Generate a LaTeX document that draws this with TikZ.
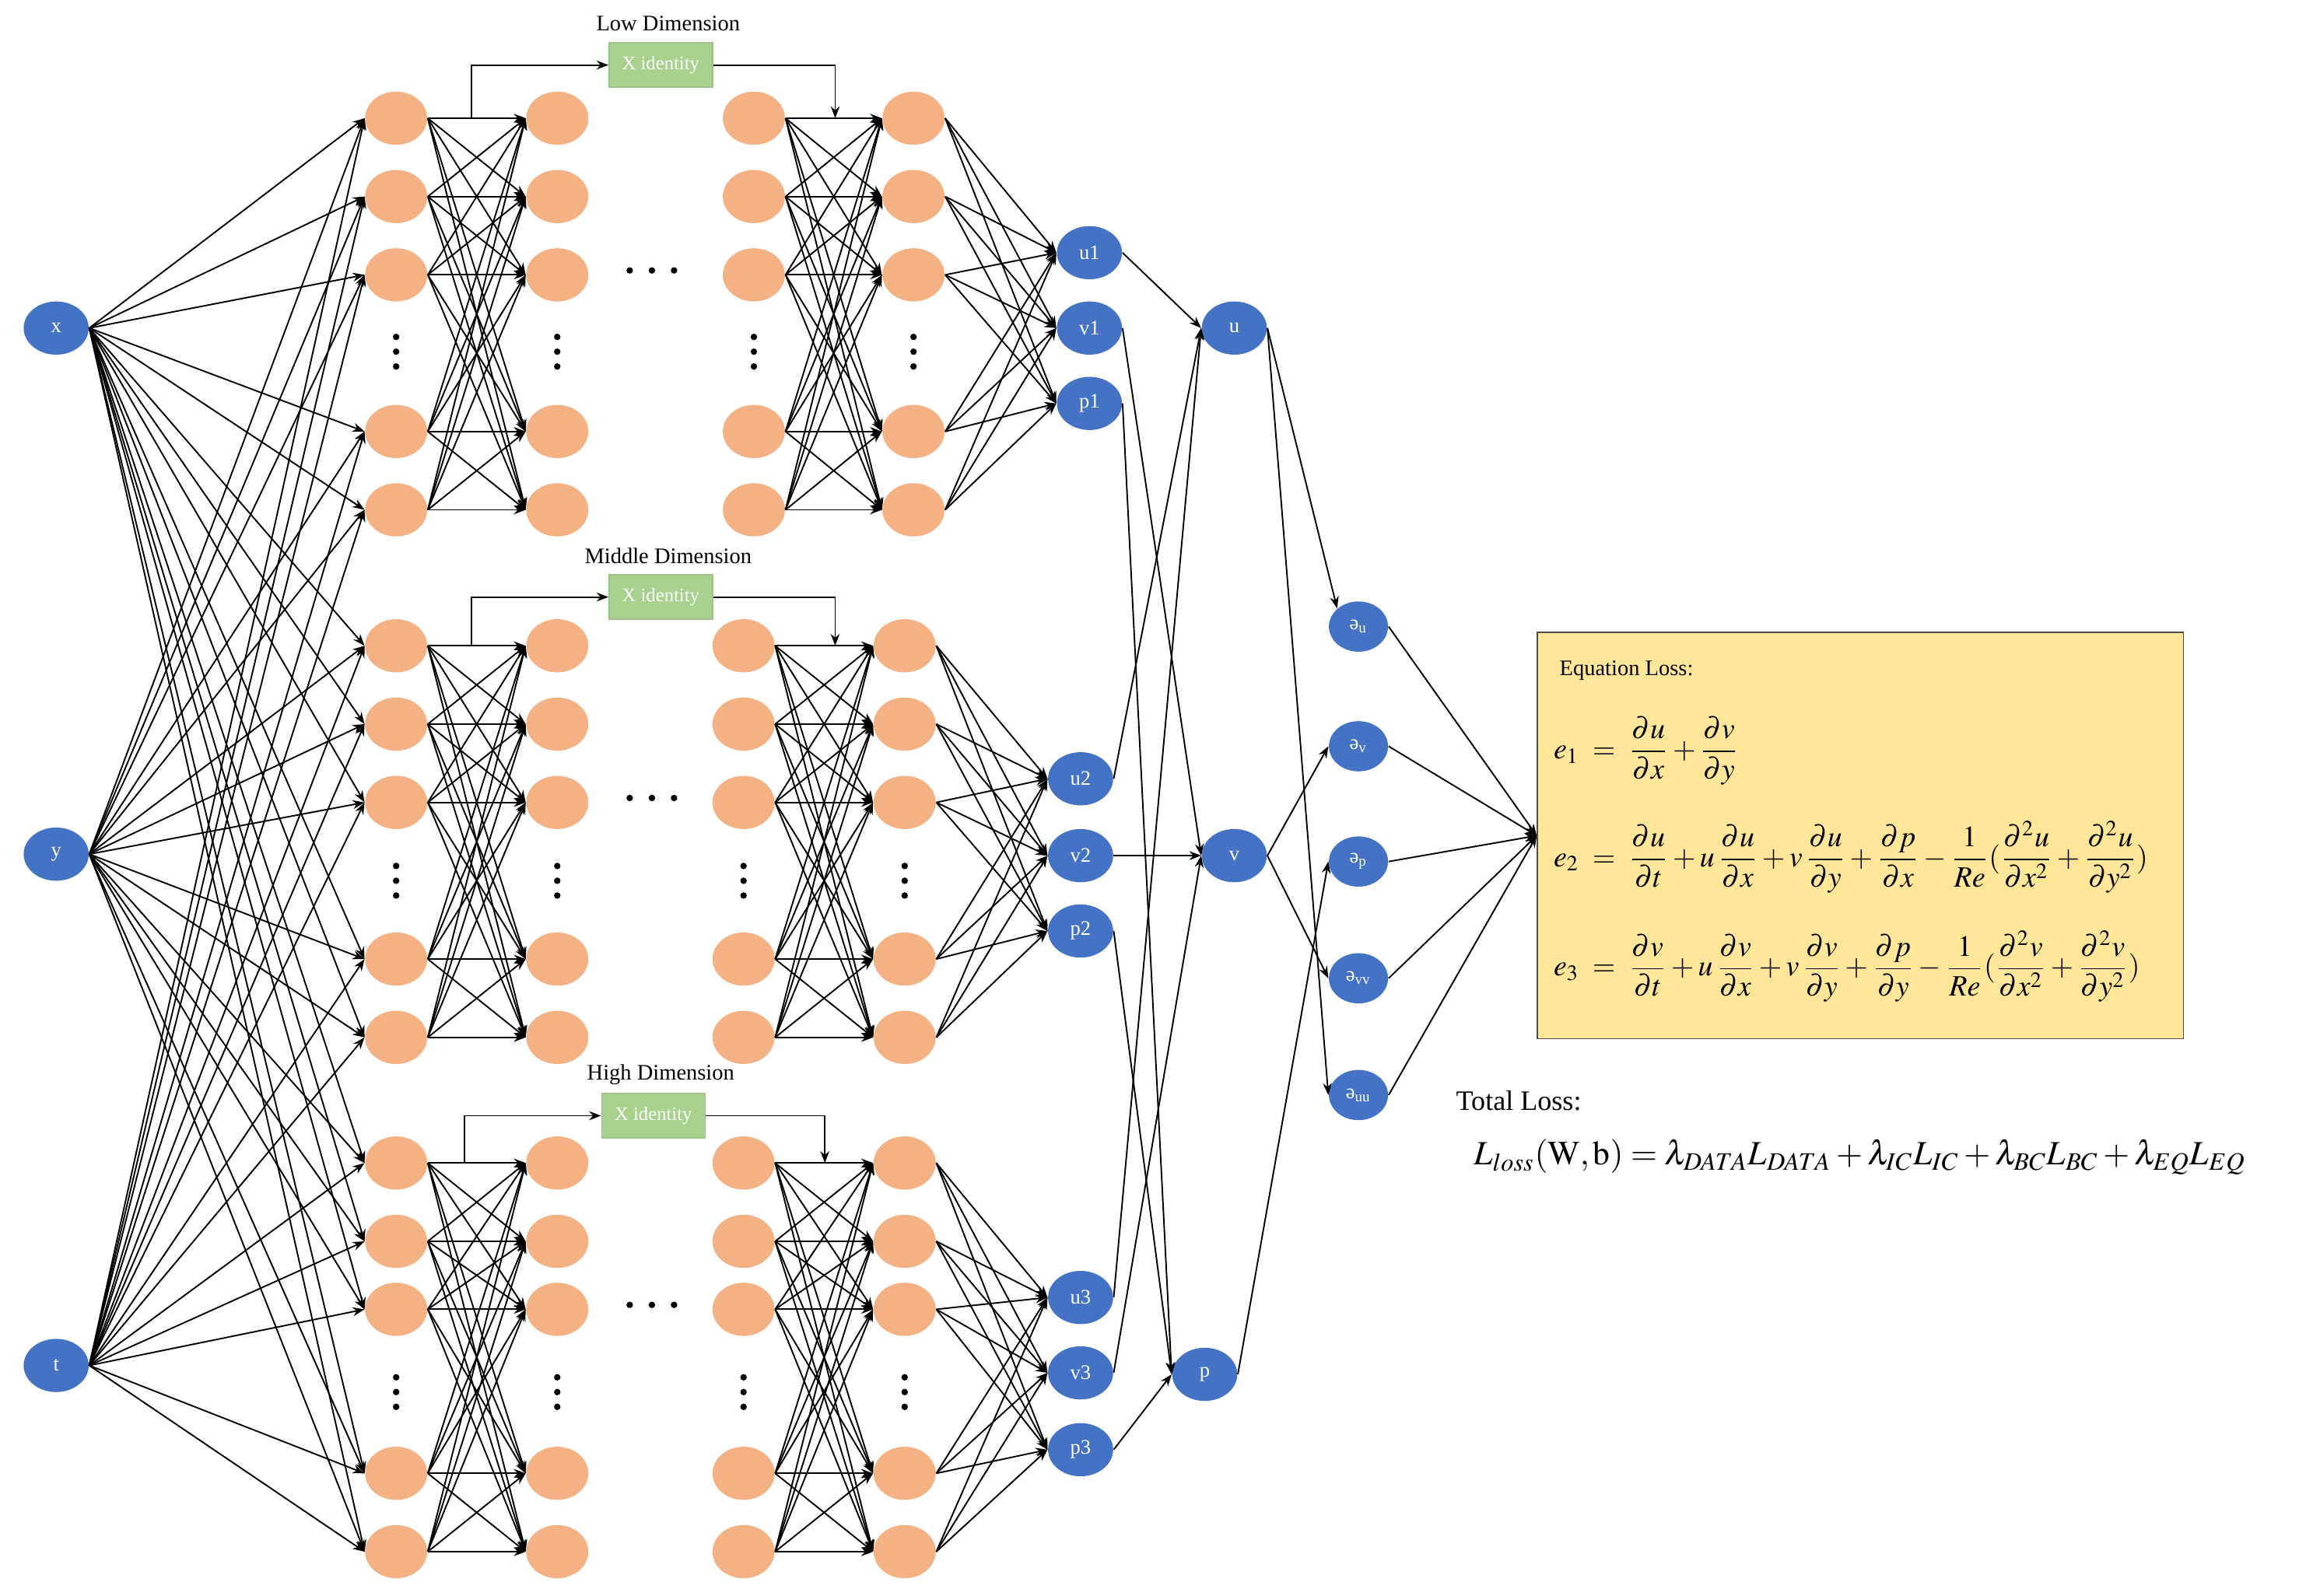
\documentclass[tikz,border=0pt]{standalone}
\usepackage{amsmath}
\usepackage{mathptmx}
\usepackage{fontspec}
\setmainfont{Liberation Serif}
\usetikzlibrary{arrows.meta,shapes.geometric}
\definecolor{org}{HTML}{F4B183}
\definecolor{blu}{HTML}{4472C4}
\definecolor{grn}{HTML}{A9D18E}
\definecolor{yel}{HTML}{FFE699}
\tikzset{
  hid/.style={ellipse,fill=org,minimum width=21pt,minimum height=18pt,inner sep=0pt},
  io/.style={ellipse,fill=blu,minimum width=22pt,minimum height=18pt,inner sep=0pt,text=white,font=\fontsize{7}{8}\selectfont},
  der/.style={ellipse,fill=blu,minimum width=20pt,minimum height=17pt,inner sep=0pt,text=white,font=\fontsize{7}{8}\selectfont},
  idb/.style={rectangle,fill=grn,draw=grn!80!gray,minimum width=35pt,minimum height=15pt,inner sep=0pt,text=white,font=\fontsize{6.5}{7}\selectfont},
  con/.style={-{Stealth[length=4pt,width=3pt]},line width=0.5pt},
  dot/.style={circle,fill=black,inner sep=0pt,minimum size=2.2pt},
  ttl/.style={font=\fontsize{7.5}{8}\selectfont}
}
\begin{document}
\begin{tikzpicture}[x=0.5pt,y=-0.5pt]
\useasboundingbox (0,0) rectangle (1560,1080);
% inputs
\node[io] (x) at (38,222) {x};
\node[io] (y) at (38,578) {y};
\node[io] (t) at (38,924) {t};
% blocks
\foreach \b/\xa/\xb/\xc/\xd/\ya/\yb/\yc/\yd/\ye/\yf/\xs/\xe/\gx/\gy/\lab in {
  1/268/377/510/618/80/133/186/238/292/345/319/565/447/44/Low Dimension,
  2/268/377/503/612/437/490/543/596/649/702/319/565/447/404/Middle Dimension,
  3/268/377/503/612/787/840/886/942/997/1050/314/558/442/755/High Dimension}{
  \foreach \c/\cx in {1/\xa,2/\xb,3/\xc,4/\xd}{
    \foreach \r/\ry in {1/\ya,2/\yb,3/\yc,5/\ye,6/\yf}{
      \node[hid] (n\b-\c-\r) at (\cx,\ry) {};
    }
    \node[dot] (d\b-\c-a) at (\cx,\yd-10) {};
    \node[dot] (d\b-\c-b) at (\cx,\yd) {};
    \node[dot] (d\b-\c-c) at (\cx,\yd+10) {};
  }
  \node[dot] (h\b-a) at (426,\yc-3) {};
  \node[dot] (h\b-b) at (441,\yc-3) {};
  \node[dot] (h\b-c) at (456,\yc-3) {};
  \node[idb] (g\b) at (\gx,\gy) {X identity};
  \node[ttl] (l\b) at (\gx+5,\gy-28) {\lab};
  \coordinate (s\b) at (\xs,\ya);
  \coordinate (e\b) at (\xe,\ya);
  \draw[con] (s\b) |- (g\b.west);
  \draw[con] (g\b.east) -| (e\b);
  \foreach \i in {1,2,3,5,6}{
    \foreach \j in {1,2,3,5,6}{
      \draw[con] (n\b-1-\i.east) -- (n\b-2-\j.west);
      \draw[con] (n\b-3-\i.east) -- (n\b-4-\j.west);
    }
    \foreach \s in {x,y,t}{
      \draw[con] (\s.east) -- (n\b-1-\i.west);
    }
  }
}
% outputs
\node[io] (u1) at (737,171) {u1};
\node[io] (v1) at (737,222) {v1};
\node[io] (p1) at (737,273) {p1};
\node[io] (u2) at (731,527) {u2};
\node[io] (v2) at (731,579) {v2};
\node[io] (p2) at (731,630) {p2};
\node[io] (u3) at (731,878) {u3};
\node[io] (v3) at (731,929) {v3};
\node[io] (p3) at (731,981) {p3};
\foreach \b in {1,2,3}{
  \foreach \i in {1,2,3,5,6}{
    \foreach \o in {u,v,p}{
      \draw[con] (n\b-4-\i.east) -- (\o\b.west);
    }
  }
}
\node[io] (u) at (835,222) {u};
\node[io] (v) at (835,579) {v};
\node[io] (p) at (815,930) {p};
\foreach \o in {u,v,p}{
  \foreach \b in {1,2,3}{
    \draw[con] (\o\b.east) -- (\o.west);
  }
}
\node[der] (du) at (919,424) {ə\textsubscript{u}};
\node[der] (dv) at (919,505) {ə\textsubscript{v}};
\node[der] (dp) at (919,583) {ə\textsubscript{p}};
\node[der] (dvv) at (919,662) {ə\textsubscript{vv}};
\node[der] (duu) at (919,741) {ə\textsubscript{uu}};
\draw[con] (u.east) -- (du.north west);
\draw[con] (u.east) -- (duu.west);
\draw[con] (v.east) -- (dv.west);
\draw[con] (v.east) -- (dvv.west);
\draw[con] (p.east) -- (dp.west);
% equation box
\node[draw=black!70,fill=yel,line width=0.4pt,minimum width=218.5pt,minimum height=137.5pt,inner sep=0pt] (box) at (1258.5,565.5) {};
\coordinate (cv) at (box.west);
\foreach \d in {du,dv,dp,dvv,duu}{
  \draw[con] (\d.east) -- (cv);
}
\node[anchor=west,font=\fontsize{7.5}{8}\selectfont] (eqt) at (1048,454) {Equation Loss:};
\node[anchor=west,font=\fontsize{10}{11}\selectfont] (e1) at (1044,508) {$e_1\;=\;\dfrac{\partial u}{\partial x}+\dfrac{\partial v}{\partial y}$};
\node[anchor=west,font=\fontsize{10}{11}\selectfont] (e2) at (1044,580) {$e_2\;=\;\dfrac{\partial u}{\partial t}+u\,\dfrac{\partial u}{\partial x}+v\,\dfrac{\partial u}{\partial y}+\dfrac{\partial p}{\partial x}-\dfrac{1}{Re}(\dfrac{\partial^2 u}{\partial x^2}+\dfrac{\partial^2 u}{\partial y^2})$};
\node[anchor=west,font=\fontsize{10}{11}\selectfont] (e3) at (1044,654) {$e_3\;=\;\dfrac{\partial v}{\partial t}+u\,\dfrac{\partial v}{\partial x}+v\,\dfrac{\partial v}{\partial y}+\dfrac{\partial p}{\partial y}-\dfrac{1}{Re}(\dfrac{\partial^2 v}{\partial x^2}+\dfrac{\partial^2 v}{\partial y^2})$};
\node[anchor=west,font=\fontsize{9.5}{10}\selectfont] (tl) at (978,745) {Total Loss:};
\node[anchor=west,font=\fontsize{11.5}{12}\selectfont] (tf) at (990,783) {$L_{loss}(\mathrm{W,b})=\lambda_{DATA}L_{DATA}+\lambda_{IC}L_{IC}+\lambda_{BC}L_{BC}+\lambda_{EQ}L_{EQ}$};
\end{tikzpicture}
\end{document}
